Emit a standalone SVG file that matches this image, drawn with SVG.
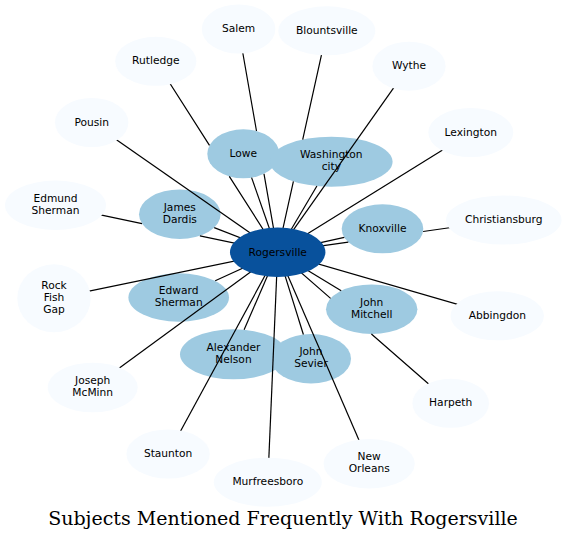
<svg xmlns="http://www.w3.org/2000/svg" width="567" height="542" viewBox="0 0 567 542">
<style>
  .inner ellipse { fill: #9ecae1; stroke: none; }
  .outer ellipse { fill: #f7fbff; stroke: none; }
  .center ellipse { fill: #08519c; stroke: none; }
  text { font-family: "DejaVu Sans", sans-serif; font-size: 10.67px; text-anchor: middle; fill: #000; }
  #edges path { stroke: #000; stroke-width: 1.2; fill: none; }
  .title { font-family: "DejaVu Serif", serif; font-size: 19px; }
</style>
<rect x="0" y="0" width="567" height="542" fill="#ffffff"/>

<g id="inner-nodes">
  <g id="n-lowe" class="inner"><ellipse cx="243.3" cy="153.8" rx="36" ry="24.5"/><text x="243.3" y="156.8">Lowe</text></g>
  <g id="n-washington" class="inner"><ellipse cx="331.3" cy="161.7" rx="61.3" ry="25"/><text x="331.3" y="158.2">Washington</text><text x="331.3" y="170.2">city</text></g>
  <g id="n-dardis" class="inner"><ellipse cx="179.8" cy="214.2" rx="40.8" ry="24.8"/><text x="179.8" y="210.7">James</text><text x="179.8" y="222.7">Dardis</text></g>
  <g id="n-knoxville" class="inner"><ellipse cx="382.5" cy="228.8" rx="40.8" ry="24.5"/><text x="382.5" y="231.8">Knoxville</text></g>
  <g id="n-edward" class="inner"><ellipse cx="178.7" cy="297.5" rx="50.3" ry="24.2"/><text x="178.7" y="294">Edward</text><text x="178.7" y="306">Sherman</text></g>
  <g id="n-mitchell" class="inner"><ellipse cx="371.7" cy="309.2" rx="45.7" ry="24.8"/><text x="371.7" y="305.7">John</text><text x="371.7" y="317.7">Mitchell</text></g>
  <g id="n-nelson" class="inner"><ellipse cx="233.5" cy="354.3" rx="53.5" ry="25"/><text x="233.5" y="350.8">Alexander</text><text x="233.5" y="362.8">Nelson</text></g>
  <g id="n-sevier" class="inner"><ellipse cx="311" cy="358.7" rx="40" ry="24.7"/><text x="311" y="355.2">John</text><text x="311" y="367.2">Sevier</text></g>
</g>

<g id="edges">
  <path id="e-lowe" d="M277.7 252.2 L251.6 177.6"/>
  <path id="e-washington" d="M277.7 252.2 L316.9 186.0"/>
  <path id="e-dardis" d="M277.7 252.2 L214.2 227.6"/>
  <path id="e-knoxville" d="M277.7 252.2 L344.3 237.3"/>
  <path id="e-edward" d="M277.7 252.2 L215.2 280.8"/>
  <path id="e-mitchell" d="M277.7 252.2 L341.2 290.7"/>
  <path id="e-nelson" d="M277.7 252.2 L244.1 329.8"/>
  <path id="e-sevier" d="M277.7 252.2 L303.4 334.5"/>
  <path id="e-salem" d="M238.6 29 L256.5 131.0 M264.0 173.9 L277.7 252.2"/>
  <path id="e-rutledge" d="M155.8 61.3 L209.5 145.4 M229.3 176.4 L277.7 252.2"/>
  <path id="e-blountsville" d="M326.8 30.8 L302.7 139.6 M293.4 181.4 L277.7 252.2"/>
  <path id="e-christiansburg" d="M503.8 220 L423.1 231.5 M348.3 242.2 L277.7 252.2"/>
  <path id="e-edmund" d="M55.5 205.3 L142.0 223.6 M199.9 235.8 L277.7 252.2"/>
  <path id="e-harpeth" d="M450.7 403.3 L371.4 334.0 M330.6 298.4 L277.7 252.2"/>
  <path id="e-wythe" d="M409 66.2 L277.7 252.2"/>
  <path id="e-lexington" d="M470.8 132.5 L277.7 252.2"/>
  <path id="e-pousin" d="M91.7 122.5 L277.7 252.2"/>
  <path id="e-rockfish" d="M54 298.3 L277.7 252.2"/>
  <path id="e-mcminn" d="M92.7 387.5 L277.7 252.2"/>
  <path id="e-staunton" d="M168.1 454 L277.7 252.2"/>
  <path id="e-murfreesboro" d="M267.8 482.2 L277.7 252.2"/>
  <path id="e-neworleans" d="M369.2 463.7 L277.7 252.2"/>
  <path id="e-abbingdon" d="M497.3 315.8 L277.7 252.2"/>
</g>

<g id="n-rogersville" class="center"><ellipse cx="277.7" cy="252.2" rx="47.7" ry="24.7"/><text x="277.7" y="255.7">Rogersville</text></g>

<g id="outer-nodes">
  <g id="n-salem" class="outer"><ellipse cx="238.6" cy="29" rx="36.8" ry="24.5"/><text x="238.6" y="32">Salem</text></g>
  <g id="n-blountsville" class="outer"><ellipse cx="326.8" cy="30.8" rx="48.5" ry="24.5"/><text x="326.8" y="33.8">Blountsville</text></g>
  <g id="n-rutledge" class="outer"><ellipse cx="155.8" cy="61.3" rx="40.6" ry="24.5"/><text x="155.8" y="64.3">Rutledge</text></g>
  <g id="n-wythe" class="outer"><ellipse cx="409" cy="66.2" rx="36.6" ry="24.5"/><text x="409" y="69.2">Wythe</text></g>
  <g id="n-pousin" class="outer"><ellipse cx="91.7" cy="122.5" rx="36.7" ry="24.5"/><text x="91.7" y="125.5">Pousin</text></g>
  <g id="n-lexington" class="outer"><ellipse cx="470.8" cy="132.5" rx="42.5" ry="24.5"/><text x="470.8" y="135.5">Lexington</text></g>
  <g id="n-edmund" class="outer"><ellipse cx="55.5" cy="205.3" rx="50.5" ry="24.7"/><text x="55.5" y="201.8">Edmund</text><text x="55.5" y="213.8">Sherman</text></g>
  <g id="n-christiansburg" class="outer"><ellipse cx="503.8" cy="220" rx="57.8" ry="24.5"/><text x="503.8" y="223">Christiansburg</text></g>
  <g id="n-rockfish" class="outer"><ellipse cx="54" cy="298.3" rx="36.7" ry="34"/><text x="54" y="288.8">Rock</text><text x="54" y="300.8">Fish</text><text x="54" y="312.8">Gap</text></g>
  <g id="n-abbingdon" class="outer"><ellipse cx="497.3" cy="315.8" rx="46.7" ry="24.5"/><text x="497.3" y="318.8">Abbingdon</text></g>
  <g id="n-mcminn" class="outer"><ellipse cx="92.7" cy="387.5" rx="45" ry="24.8"/><text x="92.7" y="384">Joseph</text><text x="92.7" y="396">McMinn</text></g>
  <g id="n-harpeth" class="outer"><ellipse cx="450.7" cy="403.3" rx="38.3" ry="24.5"/><text x="450.7" y="406.3">Harpeth</text></g>
  <g id="n-staunton" class="outer"><ellipse cx="168.1" cy="454" rx="41.7" ry="24.5"/><text x="168.1" y="457">Staunton</text></g>
  <g id="n-neworleans" class="outer"><ellipse cx="369.2" cy="463.7" rx="45.6" ry="24.7"/><text x="369.2" y="460.2">New</text><text x="369.2" y="472.2">Orleans</text></g>
  <g id="n-murfreesboro" class="outer"><ellipse cx="267.8" cy="482.2" rx="54" ry="24.5"/><text x="267.8" y="485.2">Murfreesboro</text></g>
</g>

<text class="title" x="283" y="525">Subjects Mentioned Frequently With Rogersville</text>
</svg>
